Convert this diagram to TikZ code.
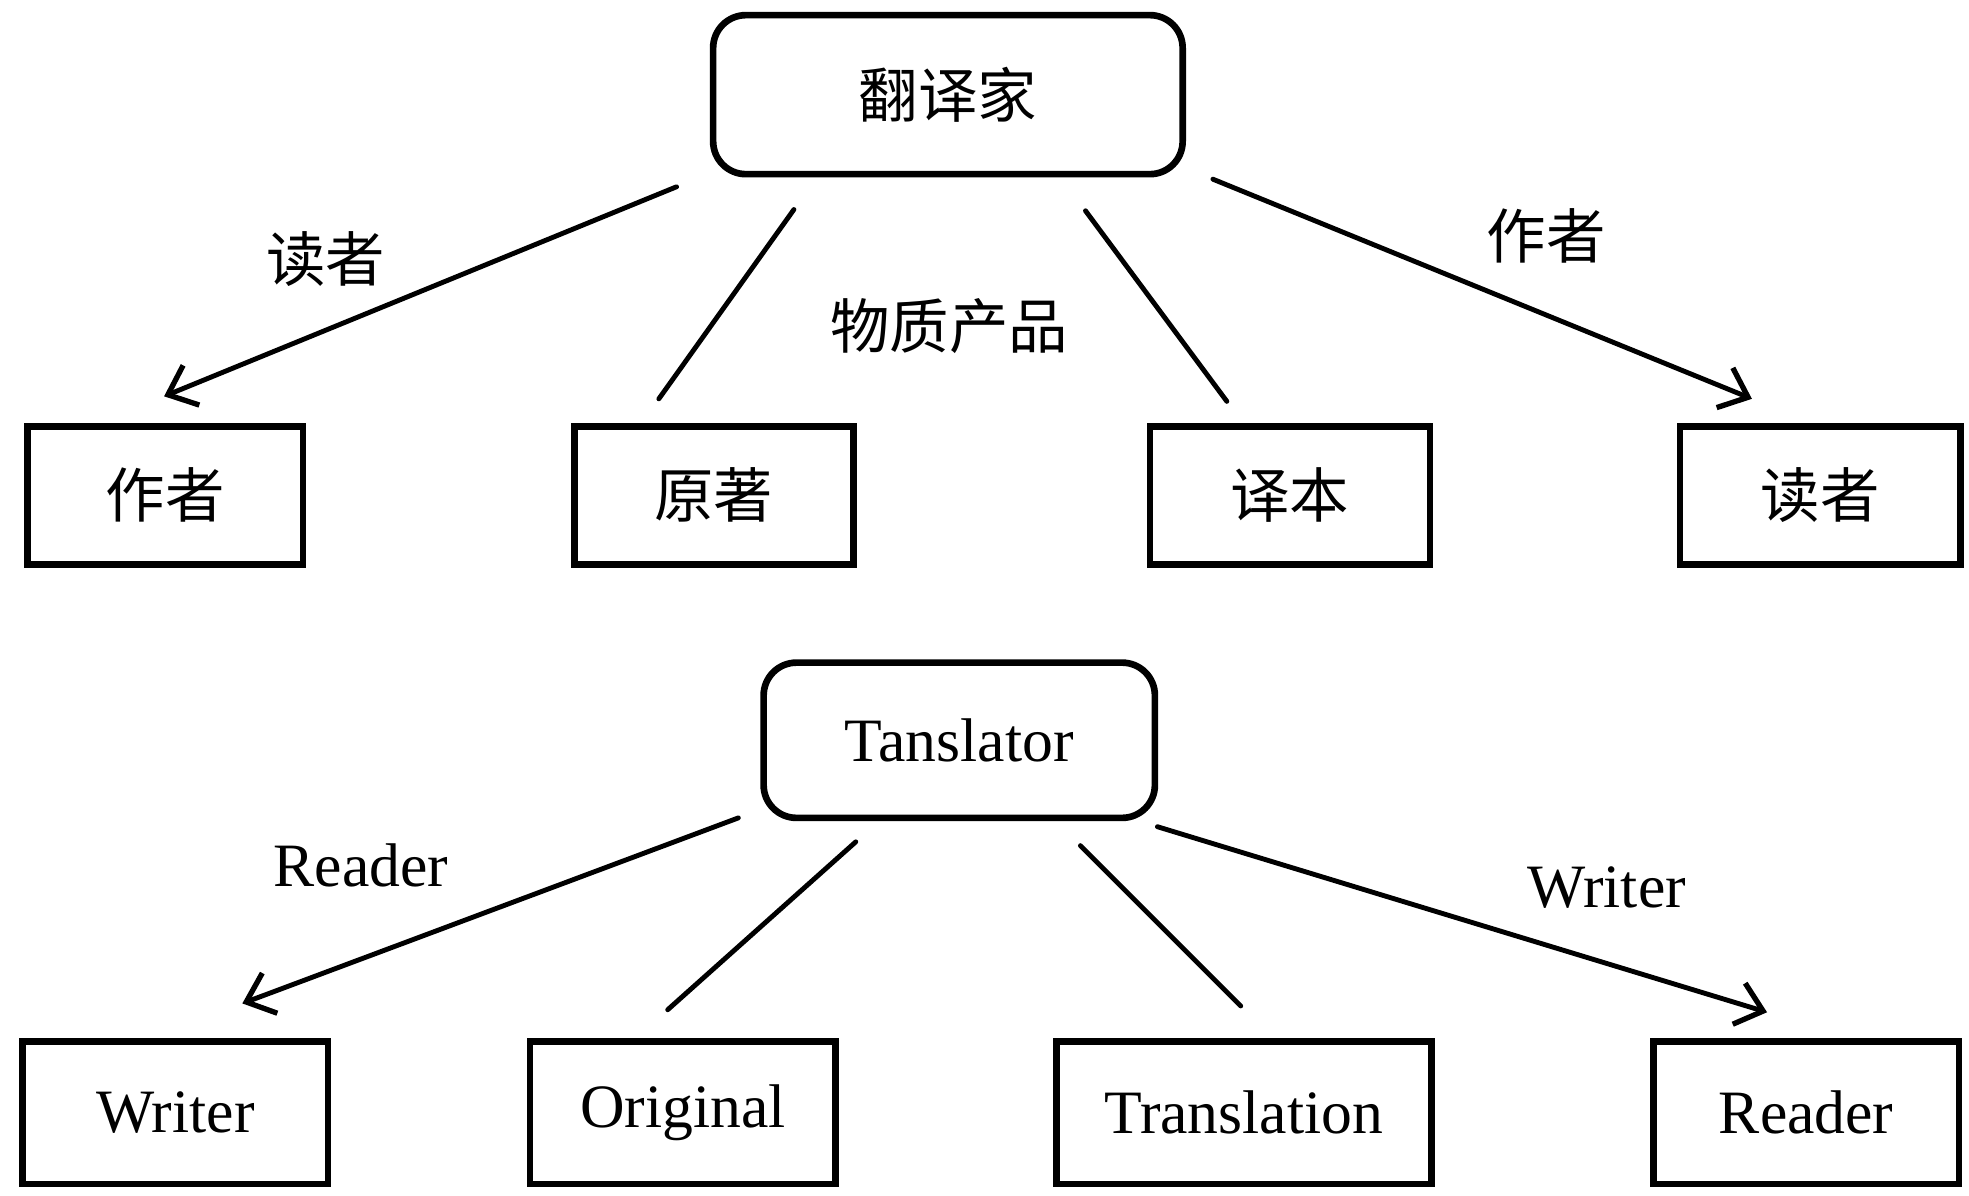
\documentclass[tikz,border=0pt]{standalone}
\usepackage{fontspec}
\setmainfont{Liberation Serif}
\newfontfamily\cjk{Noto Sans CJK SC}
\usetikzlibrary{arrows.meta}
\begin{document}
\begin{tikzpicture}[x=0.1mm,y=-0.1mm,
  boxline/.style={draw=black,line width=1.5pt},
  topbox/.style={boxline,rounded corners=2.6mm,anchor=center},
  leafbox/.style={boxline,rectangle,anchor=center},
  zh/.style={font=\cjk\fontsize{13.4}{16}\selectfont},
  en/.style={font=\fontsize{13.9}{16}\selectfont},
  link/.style={line width=1.1pt,line cap=round},
  arr/.style={link,-{Straight Barb[length=2mm,width=3.4mm,line width=1.2pt]}},
  lbl/.style={inner sep=0pt,anchor=center}]
\useasboundingbox (0,0) rectangle (1560,947);
% ---------- top diagram ----------
\node[topbox,zh,minimum width=37.2mm,minimum height=12.6mm] (tr) at (751,75) {翻译家};
\node[leafbox,zh,minimum width=21.8mm,minimum height=10.9mm] (zz) at (131,392.5) {作者};
\node[leafbox,zh,minimum width=22.1mm,minimum height=10.9mm] (yz) at (565.5,392.5) {原著};
\node[leafbox,zh,minimum width=22.2mm,minimum height=10.9mm] (yb) at (1022,392.5) {译本};
\node[leafbox,zh,minimum width=22.2mm,minimum height=10.9mm] (dz) at (1442,392.5) {读者};
\coordinate (a1s) at (536,148); \coordinate (a1e) at (130,314);
\coordinate (l1s) at (629,166); \coordinate (l1e) at (522,316);
\coordinate (l2s) at (860,167); \coordinate (l2e) at (972,318);
\coordinate (a2s) at (961,142); \coordinate (a2e) at (1388,316);
\draw[arr] (a1s) -- (a1e);
\draw[link] (l1s) -- (l1e);
\draw[link] (l2s) -- (l2e);
\draw[arr] (a2s) -- (a2e);
\node[lbl,zh] (t1) at (258,205) {读者};
\node[lbl,zh] (t2) at (752,258) {物质产品};
\node[lbl,zh] (t3) at (1225,187) {作者};
% ---------- bottom diagram ----------
\node[topbox,en,minimum width=31mm,minimum height=12.3mm] (tb) at (760,586.5) {Tanslator};
\node[leafbox,en,minimum width=24.2mm,minimum height=11.3mm] (wr) at (139,881.5) {Writer};
\node[leafbox,en,minimum width=24.2mm,minimum height=11.3mm] (og) at (541,881.5) {\raisebox{0.4mm}{Original}};
\node[leafbox,en,minimum width=29.7mm,minimum height=11.3mm] (tl) at (985.5,881.5) {\raisebox{-0.9mm}{Translation}};
\node[leafbox,en,minimum width=24.2mm,minimum height=11.3mm] (rd) at (1431,881.5) {Reader};
\coordinate (b1s) at (585,648); \coordinate (b1e) at (192,795);
\coordinate (m1s) at (678,667); \coordinate (m1e) at (529,800);
\coordinate (m2s) at (856,670); \coordinate (m2e) at (983,797);
\coordinate (b2s) at (917,655); \coordinate (b2e) at (1400,802);
\draw[arr] (b1s) -- (b1e);
\draw[link] (m1s) -- (m1e);
\draw[link] (m2s) -- (m2e);
\draw[arr] (b2s) -- (b2e);
\node[lbl,en] (u1) at (286,686) {Reader};
\node[lbl,en] (u2) at (1273,703) {Writer};
\end{tikzpicture}
\end{document}
